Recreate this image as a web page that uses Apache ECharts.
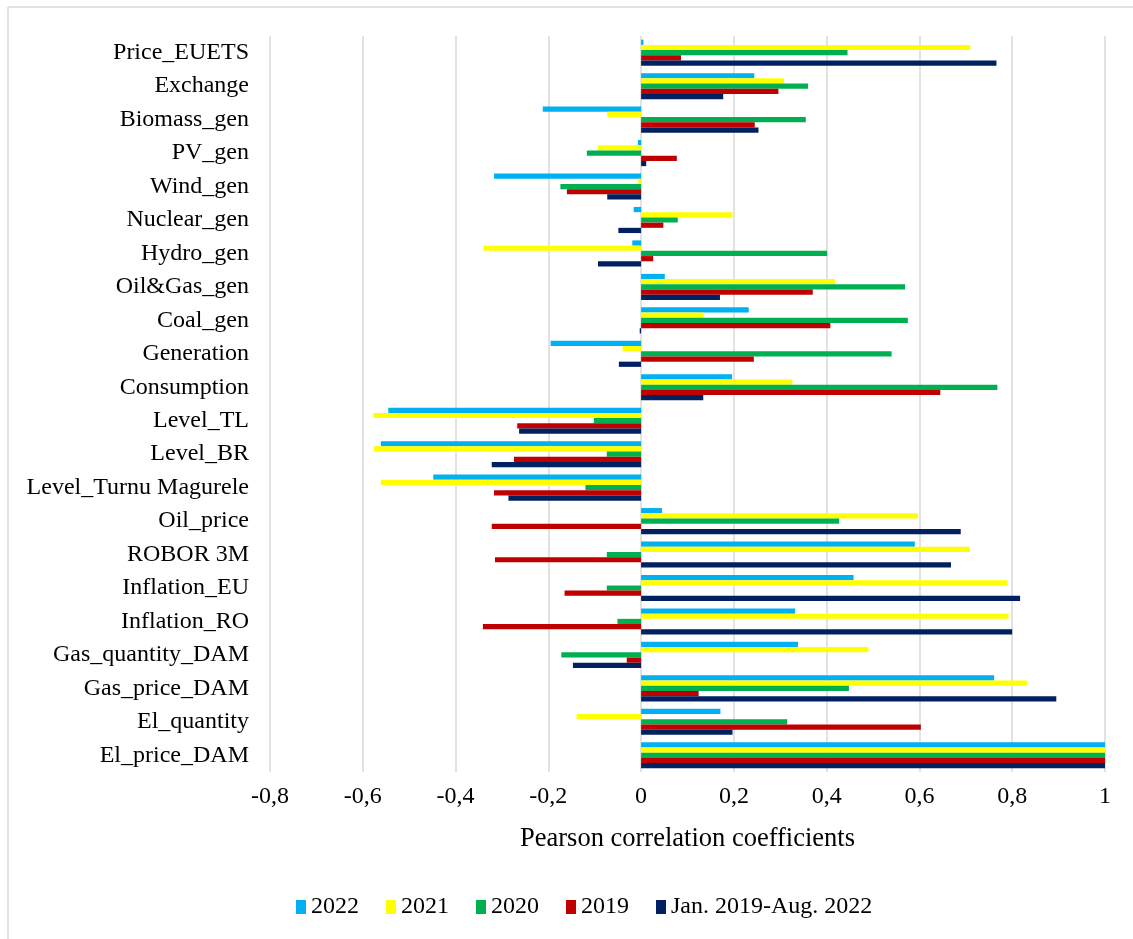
<!DOCTYPE html>
<html>
<head>
<meta charset="utf-8">
<title>Pearson correlation coefficients</title>
<script src="https://cdn.jsdelivr.net/npm/echarts@6/dist/echarts.min.js"></script>
<style>
  html, body { margin: 0; padding: 0; background: #fff; }
  #chart { width: 1133px; height: 939px; }
</style>
</head>
<body>
<div id="chart"></div>
<script>
// Variables, listed from the bottom of the axis to the top
const categories = [
  'El_price_DAM', 'El_quantity', 'Gas_price_DAM', 'Gas_quantity_DAM',
  'Inflation_RO', 'Inflation_EU', 'ROBOR 3M', 'Oil_price',
  'Level_Turnu Magurele', 'Level_BR', 'Level_TL', 'Consumption',
  'Generation', 'Coal_gen', 'Oil&Gas_gen', 'Hydro_gen', 'Nuclear_gen',
  'Wind_gen', 'PV_gen', 'Biomass_gen', 'Exchange', 'Price_EUETS'
];

const seriesNames = ['2022', '2021', '2020', '2019', 'Jan. 2019-Aug. 2022'];

const values2022 = [1, 0.171, 0.761, 0.338, 0.332, 0.458, 0.59, 0.045, -0.448, -0.561, -0.545,
  0.196, -0.195, 0.232, 0.051, -0.019, -0.016, -0.317, -0.007, -0.212, 0.244, 0.005];
const values2021 = [1, -0.139, 0.832, 0.49, 0.792, 0.79, 0.709, 0.597, -0.561, -0.576, -0.577,
  0.326, -0.04, 0.135, 0.418, -0.34, 0.197, -0.006, -0.093, -0.073, 0.308, 0.71];
const values2020 = [1, 0.315, 0.448, -0.172, -0.051, -0.074, -0.074, 0.427, -0.12, -0.074, -0.102,
  0.768, 0.54, 0.575, 0.569, 0.401, 0.079, -0.174, -0.117, 0.355, 0.36, 0.445];
const values2019 = [1, 0.603, 0.124, -0.031, -0.341, -0.165, -0.315, -0.322, -0.317, -0.274, -0.267,
  0.645, 0.243, 0.408, 0.37, 0.026, 0.048, -0.16, 0.077, 0.245, 0.296, 0.086];
const valuesWhole = [1, 0.197, 0.895, -0.147, 0.8, 0.817, 0.668, 0.689, -0.286, -0.322, -0.263,
  0.134, -0.048, -0.003, 0.17, -0.093, -0.049, -0.073, 0.011, 0.253, 0.177, 0.766];

const seriesValues = [values2022, values2021, values2020, values2019, valuesWhole];
const seriesColors = ['#00B0F0', '#FFFF00', '#00B050', '#C00000', '#002060'];

const FONT = "'Liberation Serif', 'Times New Roman', serif";

const chart = echarts.init(document.getElementById('chart'), null, { renderer: 'canvas' });

const frameStyle = { stroke: '#d9d9d9', lineWidth: 1.5 };

const option = {
  backgroundColor: '#ffffff',
  animation: false,
  textStyle: { fontFamily: FONT, color: '#000' },
  // top and left edges of the chart-area frame
  graphic: [
    { type: 'line', shape: { x1: 8, y1: 7, x2: 1133, y2: 7 }, style: frameStyle, silent: true, z: -1 },
    { type: 'line', shape: { x1: 8, y1: 7, x2: 8, y2: 939 }, style: frameStyle, silent: true, z: -1 }
  ],
  grid: { left: 270, right: 28, top: 36, bottom: 167, containLabel: false },
  legend: {
    data: seriesNames,
    left: 291,
    top: 890,
    itemWidth: 10,
    itemHeight: 14,
    itemGap: 27,
    icon: 'rect',
    textStyle: { fontFamily: FONT, fontSize: 24, color: '#000' }
  },
  xAxis: {
    type: 'value',
    min: -0.8,
    max: 1,
    interval: 0.2,
    name: 'Pearson correlation coefficients',
    nameLocation: 'middle',
    nameGap: 54,
    nameTextStyle: { fontFamily: FONT, fontSize: 26.5, color: '#000' },
    axisLine: { show: false },
    axisTick: { show: false },
    axisLabel: {
      fontFamily: FONT, fontSize: 24, color: '#000', margin: 13,
      formatter: function (v) {
        const r = Math.round(v * 10) / 10;
        return String(r).replace('.', ',');
      }
    },
    splitLine: { show: true, lineStyle: { color: '#d9d9d9', width: 1.5 } }
  },
  yAxis: {
    type: 'category',
    data: categories,
    axisLine: { show: false },
    axisTick: { show: false },
    axisLabel: { fontFamily: FONT, fontSize: 24, color: '#000', margin: 21, interval: 0 },
    splitLine: { show: false }
  },
  series: seriesNames.map(function (name, i) {
    return {
      name: name,
      type: 'bar',
      data: seriesValues[i],
      barGap: '0%',
      barCategoryGap: '22%',
      itemStyle: { color: seriesColors[i] }
    };
  })
};

chart.setOption(option);
</script>
</body>
</html>
